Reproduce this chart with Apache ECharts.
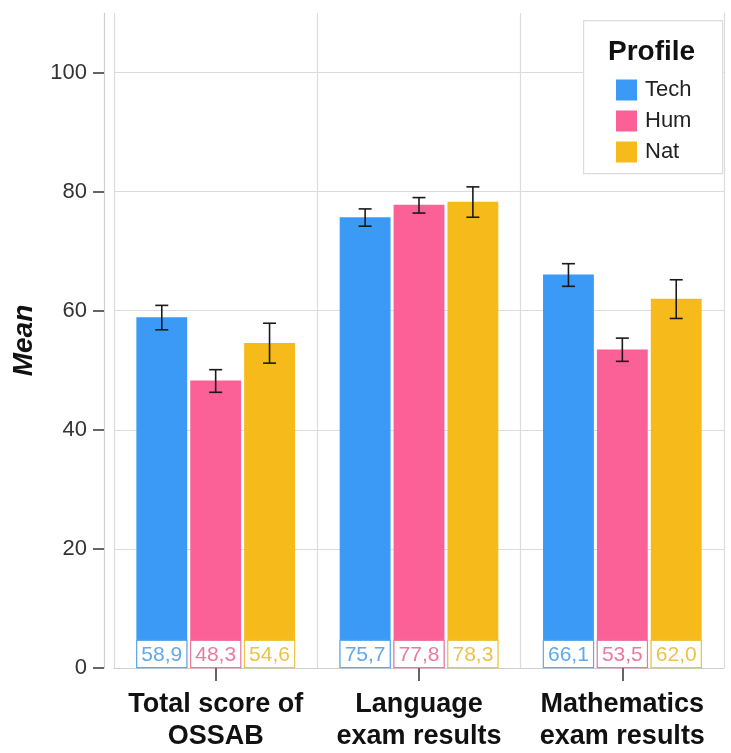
<!DOCTYPE html>
<html>
<head>
<meta charset="utf-8">
<script src="https://cdn.jsdelivr.net/npm/echarts@6/dist/echarts.min.js"></script>
<style>
html,body{margin:0;padding:0;background:#fff;}
#chart{width:731px;height:753px;}
</style>
</head>
<body>
<div id="chart"></div>
<script>
var categories = ['Total score of\nOSSAB', 'Language\nexam results', 'Mathematics\nexam results'];
var seriesNames = ['Tech', 'Hum', 'Nat'];
var techMean = [58.9, 75.7, 66.1];
var humMean  = [48.3, 77.8, 53.5];
var natMean  = [54.6, 78.3, 62.0];
var techLow  = [56.8, 74.2, 64.1];
var techHigh = [60.9, 77.1, 67.9];
var humLow   = [46.3, 76.4, 51.5];
var humHigh  = [50.1, 79.0, 55.4];
var natLow   = [51.2, 75.7, 58.7];
var natHigh  = [57.9, 80.8, 65.2];
var yTicks = [0, 20, 40, 60, 80, 100];

var colors = ['#3a9af6', '#fb6196', '#f6bb1a'];
var labelColors = ['#5fa9ec', '#ea7aa1', '#ebc446'];
var means = [techMean, humMean, natMean];
var lows = [techLow, humLow, natLow];
var highs = [techHigh, humHigh, natHigh];

var SANS = "'Liberation Sans', Arial, sans-serif";

var CAT_GAP = 0.22, BAR_GAP = 0.06;

var chart = echarts.init(document.getElementById('chart'), null, {renderer: 'canvas'});

var series = [];
seriesNames.forEach(function (name, si) {
  series.push({
    name: name,
    type: 'bar',
    data: means[si],
    barCategoryGap: (CAT_GAP * 100) + '%',
    barGap: (BAR_GAP * 100) + '%',
    itemStyle: {color: colors[si]},
    label: {
      show: true,
      position: 'insideBottom',
      distance: 1,
      formatter: function (p) { return p.value.toFixed(1).replace('.', ','); },
      color: labelColors[si],
      fontFamily: SANS,
      fontSize: 21,
      lineHeight: 22,
      backgroundColor: '#fff',
      borderColor: labelColors[si],
      borderWidth: 1.2,
      width: 45,
      align: 'center',
      padding: [3, 2, 1, 2]
    },
    emphasis: {disabled: true}
  });
});

seriesNames.forEach(function (name, si) {
  var data = categories.map(function (c, ci) { return [ci, lows[si][ci], highs[si][ci]]; });
  series.push({
    type: 'custom',
    name: name + '_err',
    z: 10,
    silent: true,
    data: data,
    encode: {x: 0, y: [1, 2]},
    renderItem: function (params, api) {
      var ci = api.value(0);
      var lo = api.coord([ci, api.value(1)]);
      var hi = api.coord([ci, api.value(2)]);
      var bw = api.size([1, 0])[0];
      var w = bw * (1 - CAT_GAP) / (3 + 2 * BAR_GAP);
      var x = lo[0] + (si - 1) * (w * (1 + BAR_GAP));
      var cap = 6.5;
      var st = {stroke: '#1a1a1a', lineWidth: 1.6};
      return {
        type: 'group',
        children: [
          {type: 'line', shape: {x1: x, y1: hi[1], x2: x, y2: lo[1]}, style: st},
          {type: 'line', shape: {x1: x - cap, y1: hi[1], x2: x + cap, y2: hi[1]}, style: st},
          {type: 'line', shape: {x1: x - cap, y1: lo[1], x2: x + cap, y2: lo[1]}, style: st}
        ]
      };
    }
  });
});

var option = {
  animation: false,
  backgroundColor: '#fff',
  grid: {left: 114, right: 7, top: 13, bottom: 82.5, containLabel: false},
  legend: {
    data: seriesNames,
    orient: 'vertical',
    left: 616,
    top: 79,
    z: 20,
    itemWidth: 21,
    itemHeight: 21,
    itemGap: 9,
    itemStyle: {borderWidth: 0},
    padding: 0,
    icon: 'rect',
    textStyle: {fontFamily: SANS, fontSize: 22, color: '#222', padding: [2, 0, 0, 3]},
    selectedMode: false
  },
  graphic: [
    {type: 'rect', left: 583, top: 20, shape: {width: 139, height: 153}, style: {fill: '#fff', stroke: '#dcdcdc', lineWidth: 1.2}, z: 1},
    {type: 'text', left: 608, top: 38, style: {text: 'Profile', fontFamily: SANS, fontWeight: 'bold', fontSize: 28, fill: '#111'}, z: 2}
  ],
  xAxis: {
    type: 'category',
    data: categories,
    boundaryGap: true,
    axisLine: {show: true, lineStyle: {color: '#cfcfcf', width: 1.2}},
    axisTick: {show: true, alignWithLabel: true, length: 13, lineStyle: {color: '#333', width: 1.5}},
    axisLabel: {
      interval: 0,
      margin: 21,
      fontFamily: SANS,
      fontWeight: 'bold',
      fontSize: 27,
      lineHeight: 32,
      color: '#111'
    },
    splitLine: {show: true, interval: 0, lineStyle: {color: '#dcdcdc', width: 1.2}}
  },
  yAxis: {
    type: 'value',
    min: 0,
    max: 110,
    interval: 10,
    offset: 10,
    name: 'Mean',
    nameLocation: 'middle',
    nameGap: 66,
    nameRotate: 90,
    nameTextStyle: {fontFamily: SANS, fontWeight: 'bold', fontStyle: 'italic', fontSize: 28, color: '#111'},
    axisLine: {show: true, lineStyle: {color: '#cfcfcf', width: 1.2}},
    axisTick: {show: true, length: 11, customValues: yTicks, lineStyle: {color: '#333', width: 1.5}},
    axisLabel: {customValues: yTicks, margin: 17, fontFamily: SANS, fontSize: 22, color: '#333'},
    splitLine: {show: true, lineStyle: {color: '#dcdcdc', width: 1.2}}
  },
  series: series
};
chart.setOption(option);
</script>
</body>
</html>
